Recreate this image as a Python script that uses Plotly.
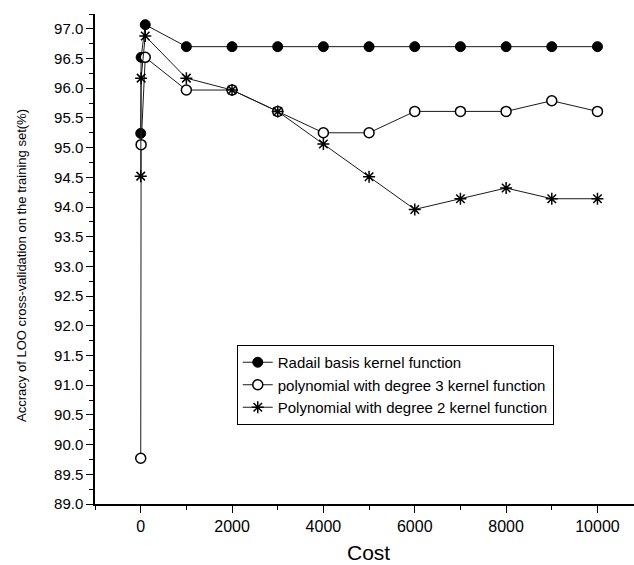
import plotly.graph_objects as go

costs = [1, 10, 100, 1000, 2000, 3000, 4000, 5000, 6000, 7000, 8000, 9000, 10000]
rbf = [95.24, 96.52, 97.07, 96.70, 96.70, 96.70, 96.70, 96.70, 96.70, 96.70, 96.70, 96.70, 96.70]
poly3 = [89.77, 95.05, 96.52, 95.97, 95.97, 95.61, 95.25, 95.25, 95.61, 95.61, 95.61, 95.79, 95.61]
poly2 = [94.52, 96.17, 96.88, 96.17, 95.97, 95.61, 95.06, 94.51, 93.96, 94.14, 94.32, 94.14, 94.14]

names = ["Radail basis kernel function",
         "polynomial with degree 3 kernel function",
         "Polynomial with degree 2 kernel function"]

FONT = "Arial, Liberation Sans, sans-serif"
LINE = dict(color="#1a1a1a", width=1)

fig = go.Figure()
fig.add_trace(go.Scatter(x=costs, y=rbf, name=names[0], mode="lines+markers",
                         line=LINE,
                         marker=dict(symbol="circle", size=10, color="black",
                                     line=dict(color="black", width=1))))
fig.add_trace(go.Scatter(x=costs, y=poly3, name=names[1], mode="lines+markers",
                         line=LINE,
                         marker=dict(symbol="circle", size=10, color="white",
                                     line=dict(color="black", width=1.5))))
fig.add_trace(go.Scatter(x=costs, y=poly2, name=names[2], mode="lines+markers",
                         line=LINE,
                         marker=dict(symbol="asterisk-open", size=10, color="black",
                                     line=dict(color="black", width=1.5))))

fig.update_layout(
    width=634, height=565,
    margin=dict(l=95, r=0, t=14, b=61),
    paper_bgcolor="white", plot_bgcolor="white",
    font=dict(family=FONT, color="black"),
    showlegend=True,
    legend=dict(x=0.263, y=0.3245, xanchor="left", yanchor="top",
                bgcolor="white", bordercolor="black", borderwidth=1,
                font=dict(size=15, family=FONT), tracegroupgap=0),
    xaxis=dict(range=[-1000, 10800], tick0=0, dtick=2000, tickformat="d",
               showgrid=False, zeroline=False,
               showline=True, linecolor="black", linewidth=1.5,
               ticks="outside", ticklen=7, tickwidth=1.2, tickcolor="black",
               tickfont=dict(size=16, family=FONT),
               minor=dict(dtick=1000, tick0=0, ticks="outside", ticklen=4,
                          tickwidth=1.2, tickcolor="black", showgrid=False)),
    yaxis=dict(range=[89, 97.25], tick0=89, dtick=0.5, tickformat=".1f",
               showgrid=False, zeroline=False,
               showline=True, linecolor="black", linewidth=1.5,
               ticks="outside", ticklen=7, tickwidth=1.2, tickcolor="black",
               tickfont=dict(size=15, family=FONT),
               minor=dict(dtick=0.25, tick0=89, ticks="outside", ticklen=4,
                          tickwidth=1.2, tickcolor="black", showgrid=False)),
    annotations=[
        dict(text="Cost", xref="paper", yref="paper", x=0.5065, y=-0.099,
             xanchor="center", yanchor="middle", showarrow=False,
             font=dict(size=21, family=FONT)),
        dict(text="Accracy of LOO cross-validation on the training set(%)",
             xref="paper", yref="paper", x=-0.1354, y=0.486, textangle=-90,
             xanchor="center", yanchor="middle", showarrow=False,
             font=dict(size=13, family=FONT)),
    ],
)

fig.write_html("out.html")
